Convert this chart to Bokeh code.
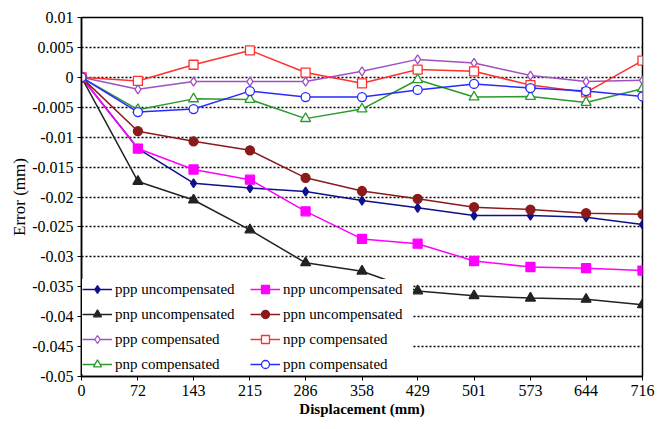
from bokeh.plotting import figure
from bokeh.models import FixedTicker, Legend, LegendItem, Range1d
from bokeh.embed import file_html
from bokeh.resources import INLINE

displacement = [0, 72, 143, 215, 286, 358, 429, 501, 573, 644, 716]

ppp_uncomp = [0, -0.0119, -0.0177, -0.0185, -0.0191, -0.0206, -0.0218, -0.0231, -0.0231, -0.0234, -0.0246]
npp_uncomp = [0, -0.0119, -0.0154, -0.0171, -0.0224, -0.0270, -0.0278, -0.0307, -0.0317, -0.0319, -0.0323]
pnp_uncomp = [0, -0.0174, -0.0205, -0.0255, -0.0310, -0.0324, -0.0357, -0.0365, -0.0369, -0.0371, -0.0380]
ppn_uncomp = [0, -0.0090, -0.0107, -0.0122, -0.0168, -0.0190, -0.0203, -0.0217, -0.0221, -0.0227, -0.0229]
ppp_comp = [0, -0.0020, -0.0007, -0.0007, -0.0007, 0.0010, 0.0030, 0.0024, 0.0003, -0.0007, -0.0005]
npp_comp = [0, -0.0006, 0.0021, 0.0045, 0.0008, -0.0010, 0.0013, 0.0010, -0.0013, -0.0025, 0.0028]
pnp_comp = [0, -0.0054, -0.0036, -0.0037, -0.0069, -0.0053, -0.0004, -0.0033, -0.0032, -0.0042, -0.0019]
ppn_comp = [0, -0.0058, -0.0053, -0.0023, -0.0033, -0.0033, -0.0021, -0.0011, -0.0018, -0.0023, -0.0032]

y_ticks = [0.01, 0.005, 0.0, -0.005, -0.01, -0.015, -0.02, -0.025, -0.03, -0.035, -0.04, -0.045, -0.05]
y_tick_labels = ["0.01", "0.005", "0", "-0.005", "-0.01", "-0.015", "-0.02", "-0.025", "-0.03",
                 "-0.035", "-0.04", "-0.045", "-0.05"]

series = [
    ("ppp uncompensated", ppp_uncomp, "#10108a", "diamond", True),
    ("npp uncompensated", npp_uncomp, "#ff00ff", "square", True),
    ("pnp uncompensated", pnp_uncomp, "#222222", "triangle", True),
    ("ppn uncompensated", ppn_uncomp, "#8b1a1a", "circle", True),
    ("ppp compensated", ppp_comp, "#a050c0", "diamond", False),
    ("npp compensated", npp_comp, "#ff3030", "square", False),
    ("pnp compensated", pnp_comp, "#2a9a2a", "triangle", False),
    ("ppn compensated", ppn_comp, "#2a2aff", "circle", False),
]

SERIF = "'Liberation Serif', 'Times New Roman', serif"

p = figure(width=664, height=429, output_backend="svg", toolbar_location=None,
           x_range=Range1d(0, 716), y_range=Range1d(-0.05, 0.01),
           min_border_left=81, min_border_right=22, min_border_top=17, min_border_bottom=53)

p.outline_line_color = "black"
p.outline_line_width = 1.5
p.background_fill_color = "white"
p.border_fill_color = "white"

p.xgrid.grid_line_color = None
p.ygrid.grid_line_color = "black"
p.ygrid.grid_line_dash = "2 2"
p.ygrid.grid_line_width = 1.5
p.ygrid.ticker = FixedTicker(ticks=y_ticks)

p.xaxis.ticker = FixedTicker(ticks=displacement)
p.yaxis.ticker = FixedTicker(ticks=y_ticks)
p.yaxis.major_label_overrides = {t: l for t, l in zip(y_ticks, y_tick_labels)}
p.xaxis.major_label_overrides = {d: str(d) for d in displacement}

for ax in (p.xaxis, p.yaxis):
    ax.axis_line_color = "black"
    ax.axis_line_width = 1.5
    ax.major_tick_line_color = "black"
    ax.major_tick_in = 0
    ax.major_tick_out = 4
    ax.minor_tick_line_color = None
    ax.major_label_text_font = SERIF
    ax.major_label_text_font_size = "16px"
    ax.major_label_text_color = "black"
    ax.axis_label_text_font = SERIF
    ax.axis_label_text_color = "black"
    ax.major_label_standoff = 4

p.xaxis.axis_label = "Displacement (mm)"
p.yaxis.axis_label = "Error (mm)"
p.xaxis.axis_label_text_font_size = "15px"
p.xaxis.axis_label_text_font_style = "bold"
p.yaxis.axis_label_text_font_size = "17px"
p.yaxis.axis_label_text_font_style = "normal"
p.xaxis.axis_label_standoff = 2
p.yaxis.axis_label_standoff = 0

items = {}
for name, vals, color, marker, filled in series:
    r1 = p.line(displacement, vals, line_color=color, line_width=1.5)
    r2 = p.scatter(displacement, vals, marker=marker, size=9 if marker != "triangle" else 10,
                   line_color=color, line_width=1.3,
                   fill_color=color if filled else "white")
    items[name] = LegendItem(label=name, renderers=[r1, r2])

# column-major fill: first column, then second column
order = ["ppp uncompensated", "pnp uncompensated", "ppp compensated", "pnp compensated",
         "npp uncompensated", "ppn uncompensated", "npp compensated", "ppn compensated"]
legend = Legend(items=[items[n] for n in order], ncols=2, location=(1, 2),
                orientation="vertical", level="underlay")
legend.label_text_font = SERIF
legend.label_text_font_size = "15px"
legend.label_text_color = "black"
legend.glyph_width = 30
legend.glyph_height = 20
legend.label_height = 20
legend.label_width = 130
legend.label_standoff = 3
legend.spacing = 5
legend.padding = 3
legend.margin = 0
legend.border_line_color = None
legend.background_fill_color = "white"
legend.background_fill_alpha = 1.0
p.add_layout(legend, "center")

open("out.html", "w").write(file_html(p, INLINE))
